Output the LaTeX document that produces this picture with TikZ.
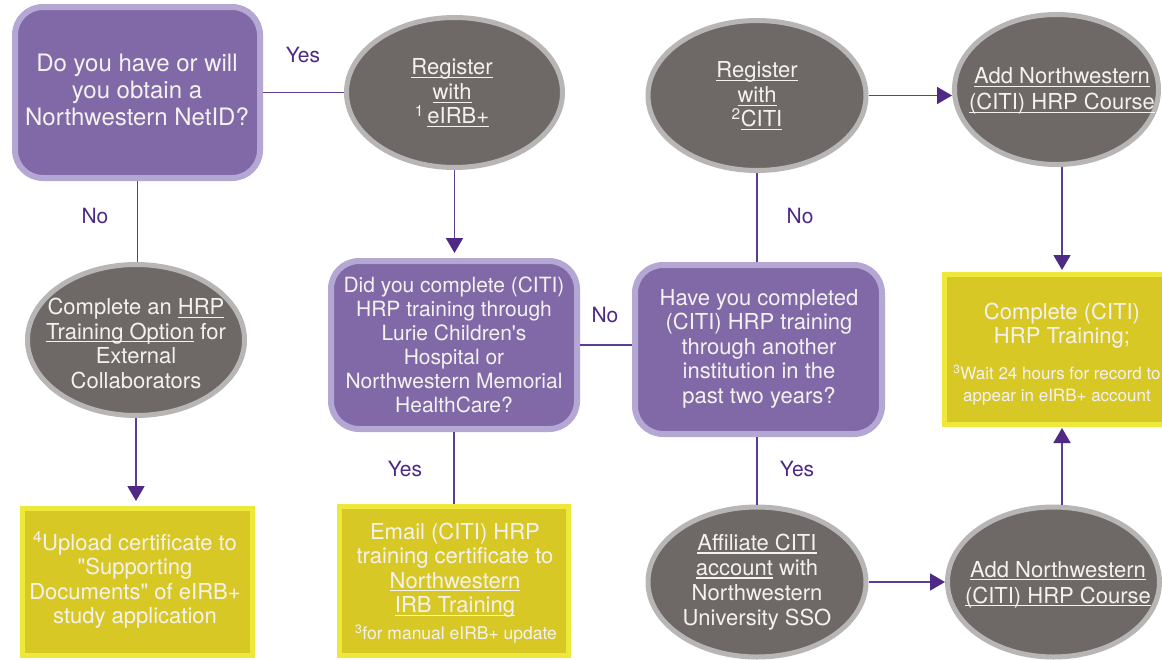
\documentclass[tikz,border=0pt]{standalone}
\usepackage{fontspec}
\setmainfont{TeX Gyre Heros}[Ligatures=TeXOff]
\usetikzlibrary{shapes.geometric,arrows.meta,calc}
\newcommand\myul[1]{\setbox0\hbox{#1}\rlap{\rule[-3.2pt]{\wd0}{1.1pt}}\box0\relax}
\definecolor{pfill}{HTML}{8069A6}
\definecolor{pborder}{HTML}{B4A7D3}
\definecolor{gfill}{HTML}{6E6867}
\definecolor{gborder}{HTML}{B8B6B4}
\definecolor{yfill}{HTML}{D8C826}
\definecolor{yborder}{HTML}{EDE83A}
\definecolor{nwpurple}{HTML}{4E2A84}
\definecolor{linecol}{HTML}{5C3C96}
\definecolor{txtwhite}{HTML}{F4F2F0}
\begin{document}
\begin{tikzpicture}[x=1pt,y=-1pt,
  question/.style={rectangle,rounded corners=28pt,draw=pborder,fill=pfill,line width=6pt,inner sep=0pt},
  action/.style={ellipse,draw=gborder,fill=gfill,line width=5pt,inner sep=0pt},
  result/.style={rectangle,draw=yborder,fill=yfill,line width=5pt,inner sep=0pt},
  txt/.style={text=txtwhite,align=center,inner sep=0pt,font=\fontsize{22}{24.5}\selectfont},
  small/.style={text=txtwhite,align=center,inner sep=0pt,font=\fontsize{17}{21.5}\selectfont},
  lbl/.style={text=nwpurple,inner sep=0pt,font=\fontsize{21}{24}\selectfont},
  conn/.style={draw=linecol,line width=1.8pt},
  arr/.style={conn,-{Triangle[width=17pt,length=15pt,color=nwpurple]}}
]
\useasboundingbox (0,0) rectangle (1162,659);
\fill[white] (0,0) rectangle (1162,659);

% shapes
\node[question,minimum width=245pt,minimum height=171pt] (Q1) at (137.5,92.5) {};
\node[question,minimum width=246pt,minimum height=168pt] (Q2) at (454,345) {};
\node[question,minimum width=247pt,minimum height=169pt] (Q3) at (758.5,349.5) {};

\node[action,minimum width=216pt,minimum height=150pt] (E1) at (454.5,92.5) {};
\node[action,minimum width=218pt,minimum height=150pt] (E2) at (757,95.5) {};
\node[action,minimum width=204pt,minimum height=150pt] (E3) at (1056.5,89.5) {};
\node[action,minimum width=217pt,minimum height=151pt] (E4) at (136,340) {};
\node[action,minimum width=218pt,minimum height=150pt] (E5) at (757,582) {};
\node[action,minimum width=212pt,minimum height=150pt] (E6) at (1053.5,582) {};

\node[result,minimum width=230pt,minimum height=147pt] (Y1) at (137.5,582) {};
\node[result,minimum width=229pt,minimum height=149pt] (Y2) at (454,581) {};
\node[result,minimum width=235.5pt,minimum height=150pt] (Y3) at (1062,349.5) {};

% texts
\node[txt,font=\fontsize{24}{27}\selectfont] (T1) at (137,90) {Do you have or will\\you obtain a\\Northwestern NetID?};
\node[txt] (T2) at (452,93) {\myul{Register}\\\myul{with}\\\textsuperscript{1}\,\myul{eIRB+}};
\node[txt] (T3) at (757,96) {\myul{Register}\\\myul{with}\\\textsuperscript{2}\myul{CITI}};
\node[txt,font=\fontsize{22}{26}\selectfont] (T4) at (1062,91) {\myul{Add Northwestern}\\\myul{(CITI) HRP Course}};
\node[txt] (T5) at (136,343.5) {Complete an \myul{HRP}\\\myul{Training Option} for\\External\\Collaborators};
\node[txt,font=\fontsize{21}{24}\selectfont] (T6) at (454,345) {Did you complete (CITI)\\HRP training through\\Lurie Children's\\Hospital or\\Northwestern Memorial\\HealthCare?};
\node[txt] (T7) at (759,348.5) {Have you completed\\(CITI) HRP training\\through another\\institution in the\\past two years?};
\node[txt] (T8) at (1062,325.5) {Complete (CITI)\\HRP Training;};
\node[small] (T9) at (1057,385) {\textsuperscript{3}Wait 24 hours for record to\\appear in eIRB+ account};
\node[txt] (T10) at (135,580) {\textsuperscript{4}Upload certificate to\\"Supporting\\Documents" of eIRB+\\study application};
\node[txt] (T11) at (455,570) {Email (CITI) HRP\\training certificate to\\\myul{Northwestern}\\\myul{IRB Training}};
\node[small,font=\fontsize{17.5}{20}\selectfont] (T12) at (456,634) {\textsuperscript{3}for manual eIRB+ update};
\node[txt,font=\fontsize{22}{25}\selectfont] (T13) at (757,582) {\myul{Affiliate CITI}\\\myul{account} with\\Northwestern\\University SSO};
\node[txt,font=\fontsize{22}{26}\selectfont] (T14) at (1058,584.5) {\myul{Add Northwestern}\\\myul{(CITI) HRP Course}};

% labels
\node[lbl] (L1) at (303,55) {Yes};
\node[lbl] (L2) at (95,216) {No};
\node[lbl] (L3) at (605,315) {No};
\node[lbl] (L4) at (800,216) {No};
\node[lbl] (L5) at (405,469) {Yes};
\node[lbl] (L6) at (797,469) {Yes};

% connectors
\draw[conn] (Q1) -- (E1);
\draw[conn] (Q1.south) -- (Q1.south |- E4.north);
\draw[arr,shorten >=5pt] (E4.south) -- (E4.south |- Y1.north);
\draw[arr,shorten >=5pt] (E1.south) -- (E1.south |- Q2.north);
\draw[conn] (Q2.east) -- (Q2.east -| Q3.west);
\draw[conn] (E2.south) -- (E2.south |- Q3.north);
\draw[conn] (Q2.south) -- (Q2.south |- Y2.north);
\draw[conn] (E5.north) -- (E5.north |- Q3.south);
\draw[arr] (E2.east) -- (E2.east -| E3.west);
\draw[arr,shorten >=2pt] (Y3.north |- E3.south) -- (Y3.north);
\draw[arr] (E5.east) -- (E5.east -| E6.west);
\draw[arr,shorten >=1pt] (Y3.south |- E6.north) -- (Y3.south);
\end{tikzpicture}
\end{document}
